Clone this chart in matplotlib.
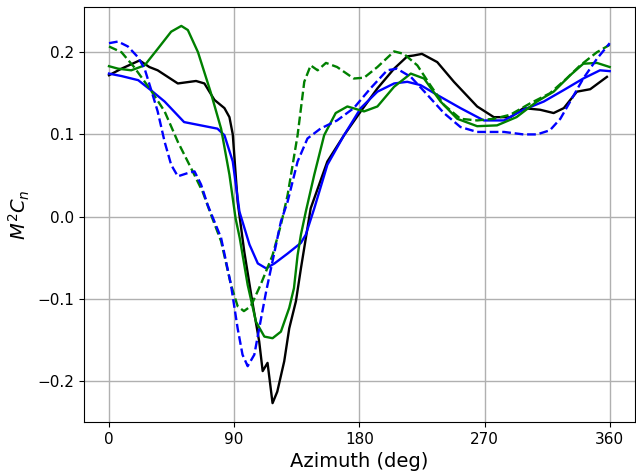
import matplotlib
matplotlib.use('Agg')
import matplotlib.pyplot as plt

####################################################################################################

# black solid
az_black = [0, 9, 22, 29, 35, 49.5, 62.6, 68.6, 75.8, 83, 86.6, 89, 92.5, 97.3, 103, 108, 110.5,
            114, 117.6, 121, 126, 129.6, 134.4, 138, 140.4, 145, 157, 169, 181, 193, 205, 214.5,
            219, 225, 236, 248, 264.7, 276.7, 288.6, 298, 310, 319.7, 327, 336.4, 346, 358]
cn_black = [0.172, 0.180, 0.190, 0.182, 0.178, 0.162, 0.165, 0.162, 0.142, 0.132, 0.121, 0.100,
            0.018, -0.043, -0.103, -0.152, -0.188, -0.178, -0.227, -0.213, -0.176, -0.136, -0.103,
            -0.063, -0.038, 0.010, 0.067, 0.099, 0.128, 0.156, 0.180, 0.195, 0.196, 0.198, 0.188,
            0.164, 0.134, 0.121, 0.121, 0.132, 0.130, 0.126, 0.132, 0.152, 0.155, 0.170]

# blue solid
az_blue = [0, 9, 21, 30, 40, 54, 66, 78, 83, 89, 93.8, 101, 107, 113, 119, 128.4, 138, 141.5,
           147.6, 157, 169, 181, 193, 205, 214.5, 224, 236, 252.7, 269.5, 284, 298, 312.6, 327,
           341, 353, 360]
cn_blue = [0.174, 0.171, 0.166, 0.154, 0.140, 0.115, 0.111, 0.107, 0.099, 0.067, 0.006, -0.034,
           -0.057, -0.063, -0.057, -0.045, -0.032, -0.022, 0.010, 0.063, 0.099, 0.132, 0.152,
           0.162, 0.164, 0.160, 0.148, 0.132, 0.117, 0.117, 0.130, 0.140, 0.154, 0.168, 0.178,
           0.177]

# green solid
az_green = [0, 6.5, 16, 25.6, 35, 44.7, 52, 56.7, 64, 73, 80.6, 86.6, 91, 94, 99.7, 105.7, 111.7,
            117.6, 123.6, 129.6, 133, 135.6, 138, 141.5, 147.6, 154.7, 163, 171.4, 183.4, 193,
            205, 217, 226.5, 238.4, 250.4, 264.7, 279, 293, 307.7, 319.7, 331.6, 341, 350.8, 360]
cn_green = [0.183, 0.180, 0.178, 0.184, 0.204, 0.225, 0.232, 0.227, 0.200, 0.152, 0.107, 0.051,
            -0.002, -0.026, -0.083, -0.128, -0.146, -0.148, -0.140, -0.111, -0.087, -0.047,
            -0.022, 0.006, 0.051, 0.099, 0.126, 0.134, 0.128, 0.134, 0.158, 0.174, 0.168, 0.140,
            0.119, 0.110, 0.111, 0.121, 0.140, 0.152, 0.172, 0.186, 0.187, 0.182]

# green dashed
az_green_d = [0, 9, 18, 30, 40, 49.5, 59, 67.4, 73.4, 80.6, 87.7, 92.5, 97, 102, 109, 117.6,
              123.6, 128.4, 135.6, 140.4, 145, 150, 156, 164, 176, 183.4, 193, 205, 212, 221.7,
              231, 240.8, 252.7, 264.7, 276.7, 288.6, 303, 317, 329, 338.8, 350.8, 360]
cn_green_d = [0.207, 0.200, 0.182, 0.154, 0.128, 0.091, 0.059, 0.030, 0.002, -0.030, -0.083,
              -0.109, -0.115, -0.109, -0.083, -0.047, -0.010, 0.026, 0.099, 0.164, 0.184, 0.178,
              0.187, 0.182, 0.168, 0.169, 0.182, 0.201, 0.198, 0.184, 0.160, 0.136, 0.119, 0.117,
              0.119, 0.124, 0.138, 0.150, 0.168, 0.184, 0.200, 0.209]

# blue dashed
az_blue_d = [0, 6.5, 13.6, 20.8, 25.6, 30, 35, 40, 44.7, 49.5, 56.7, 61.5, 66.2, 71, 75.8, 80.6,
             87.7, 92.5, 96, 99.7, 104.5, 108, 113, 119, 123.6, 128.4, 135.6, 142.7, 152, 164,
             176, 188, 200, 207, 217, 229, 240.8, 252.7, 264.7, 284, 298, 307.7, 317, 324.5,
             331.6, 341, 350.8, 360]
cn_blue_d = [0.211, 0.213, 0.207, 0.194, 0.180, 0.156, 0.128, 0.091, 0.063, 0.049, 0.053, 0.055,
             0.039, 0.014, -0.006, -0.026, -0.083, -0.136, -0.168, -0.182, -0.168, -0.136, -0.091,
             -0.043, -0.006, 0.018, 0.067, 0.095, 0.107, 0.117, 0.132, 0.156, 0.178, 0.180, 0.170,
             0.148, 0.126, 0.109, 0.103, 0.103, 0.100, 0.100, 0.105, 0.119, 0.140, 0.168, 0.192,
             0.211]

xticks = [0, 90, 180, 270, 360]

####################################################################################################

fig, ax = plt.subplots(figsize=(6.36, 4.71), dpi=100)

ax.plot(az_black, cn_black, color='black', lw=1.7)
ax.plot(az_blue, cn_blue, color='blue', lw=1.7)
ax.plot(az_green, cn_green, color='green', lw=1.7)
ax.plot(az_green_d, cn_green_d, color='green', lw=1.7, ls='--')
ax.plot(az_blue_d, cn_blue_d, color='blue', lw=1.7, ls='--')

ax.set_xticks(xticks)
ax.set_xlabel('Azimuth (deg)', fontsize=14)
ax.set_ylabel('$M^2C_n$', fontsize=14)
ax.tick_params(labelsize=11)
ax.grid(color='#b0b0b0', lw=1)
ax.set_axisbelow(True)

fig.subplots_adjust(left=0.132, right=0.998, top=0.985, bottom=0.104)
fig.savefig('out.png', dpi=100)
